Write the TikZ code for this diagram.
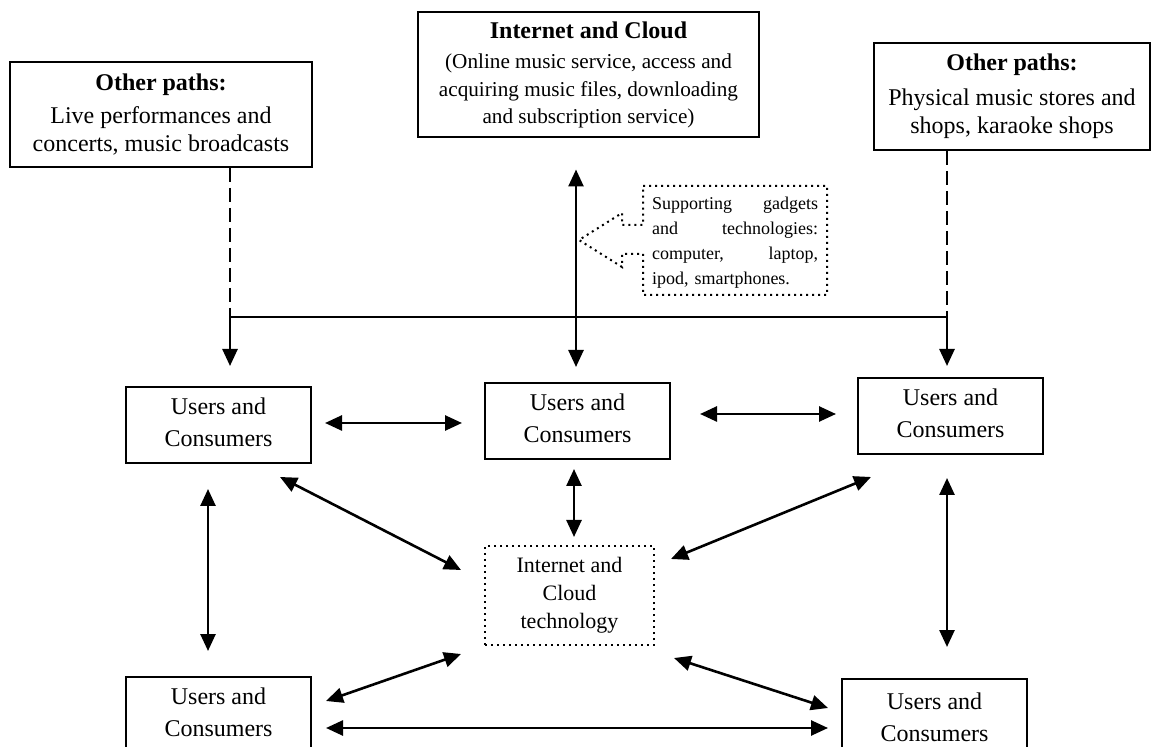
\documentclass[tikz,border=0pt]{standalone}
\usepackage{fontspec}
\setmainfont{Liberation Serif}
\usetikzlibrary{arrows.meta}
\begin{document}
\begin{tikzpicture}[x=0.5pt,y=-0.5pt,
  box/.style={draw,line width=1pt,align=center,inner sep=0pt},
  pathbox/.style={box,font=\fontsize{12}{14}\selectfont},
  ubox/.style={box,minimum width=92.5pt,minimum height=38pt,font=\fontsize{12}{16}\selectfont},
  tip/.tip={Triangle[length=8.5pt,width=7.5pt]},
  link/.style={line width=1.3pt,tip-tip},
  down/.style={line width=1.3pt,-tip},
  feed/.style={line width=0.9pt,dash pattern=on 7pt off 3pt},
  dotline/.style={line width=1pt,dotted},
]
\clip (0,0) rectangle (1155,747);

% top row: sources of music
\node[pathbox,minimum width=151pt,minimum height=52.5pt] (p1) at (161,114.5)
  {\textbf{Other paths:}\\[2.5pt]Live performances and\\concerts, music broadcasts};
\node[box,minimum width=170.5pt,minimum height=62.5pt,font=\fontsize{10.6}{13.8}\selectfont] (net) at (588.5,75)
  {{\fontsize{12}{13.8}\selectfont\bfseries Internet and Cloud}\\[1.5pt](Online music service, access and\\acquiring music files, downloading\\and subscription service)};
\node[pathbox,minimum width=138pt,minimum height=53.5pt] (p2) at (1012,96.5)
  {\textbf{Other paths:}\\[3.5pt]Physical music stores and\\shops, karaoke shops};

% supporting gadgets callout, justified lines
\draw[dotline] (643,186) -- (827,186) -- (827,295) -- (643,295) -- (643,254) -- (622,254)
  -- (622,267) -- (579,240) -- (622,213) -- (622,225) -- (643,225) -- cycle;
\node[align=left,text width=83pt,inner sep=0pt,font=\fontsize{9}{12.5}\selectfont] (gt) at (735,243)
  {\makebox[83pt][s]{Supporting\hfill gadgets}\\\makebox[83pt][s]{and\hfill technologies:}\\
   \makebox[83pt][s]{computer,\hfill laptop,}\\ipod, smartphones.};

% users and consumers
\node[ubox] (m1) at (218.5,425) {Users and\\Consumers\rule[-3pt]{0pt}{0pt}};
\node[ubox] (m2) at (577.5,421) {Users and\\Consumers\rule[-3pt]{0pt}{0pt}};
\node[ubox] (m3) at (950.5,416) {Users and\\Consumers\rule[-3pt]{0pt}{0pt}};
\node[ubox] (b1) at (218.5,715) {Users and\\Consumers\rule[-3pt]{0pt}{0pt}};
\node[ubox] (b2) at (934.5,717) {Users and\\Consumers};

% internet and cloud technology hub
\node[box,dotline,minimum width=84.5pt,minimum height=49.5pt,font=\fontsize{11}{14}\selectfont] (cloud) at (569.5,595.5)
  {Internet and\\Cloud\\technology};

% distribution line from the other paths
\coordinate (jl) at (230,317);
\coordinate (jr) at (947,317);
\draw[feed] (p1.south -| jl) -- (jl);
\draw[feed] (p2.south -| jr) -- (jr);
\draw[line width=1.3pt] (jl) -- (jr);
\draw[down,shorten >=10pt] (jl) -- (m1.north -| jl);
\draw[down,shorten >=5.5pt] (jr) -- (m3.north -| jr);

% two-way links
\draw[link] ([shift={(-12.5,31)}]net.south) -- ([shift={(-1.5,-15)}]m2.north);
\draw[link] ([shift={(13,-2)}]m1.east) -- ([shift={(-22,2)}]m2.west);
\draw[link] ([shift={(29,-7)}]m2.east) -- ([shift={(-21,-2)}]m3.west);
\draw[link] ([shift={(-3.5,9)}]m2.south) -- ([shift={(4.5,-8)}]cloud.north);
\draw[link] ([shift={(-32,13)}]m1.south east) -- ([shift={(-23,25)}]cloud.north west);
\draw[link] ([shift={(14,22)}]m3.south west) -- ([shift={(16,14)}]cloud.north east);
\draw[link] ([shift={(-10.5,25)}]m1.south) -- ([shift={(-10.5,-25)}]b1.north);
\draw[link] ([shift={(-3.5,23)}]m3.south) -- ([shift={(12.5,-31)}]b2.north);
\draw[link] ([shift={(14,25)}]b1.north east) -- ([shift={(-23,8)}]cloud.south west);
\draw[link] ([shift={(-13,30)}]b2.north west) -- ([shift={(19,12)}]cloud.south east);
\draw[link] ([shift={(14,13)}]b1.east) -- ([shift={(-13,11)}]b2.west);
\end{tikzpicture}
\end{document}
